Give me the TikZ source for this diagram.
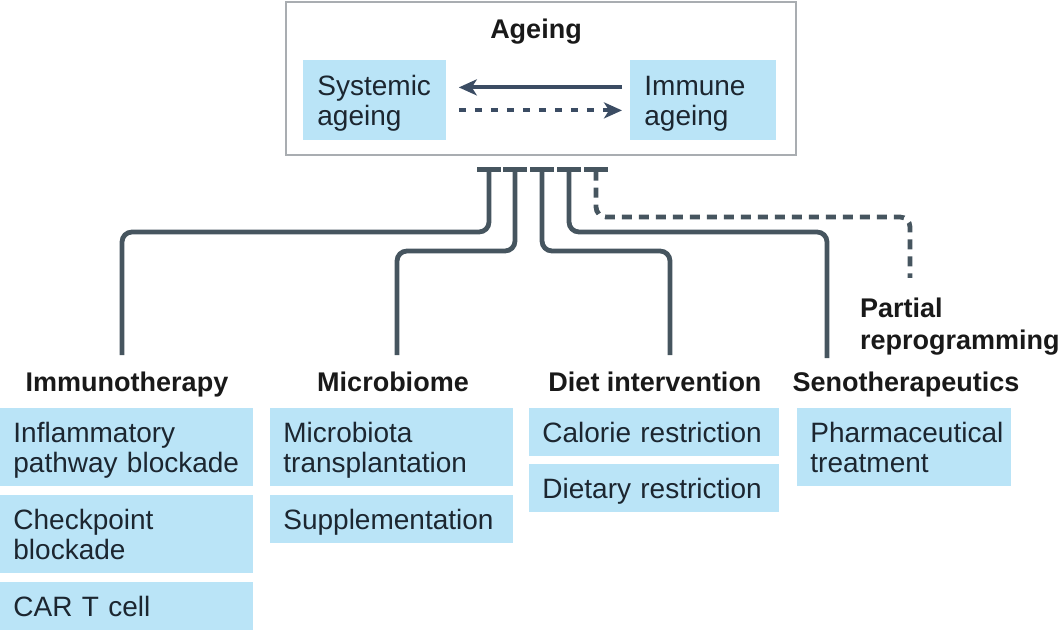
\documentclass[tikz,border=0pt]{standalone}
\usepackage{fontspec}
\setmainfont{Liberation Sans}
\definecolor{myblue}{HTML}{BAE4F7}
\definecolor{mygrey}{HTML}{A9ADB1}
\definecolor{myslate}{HTML}{46555F}
\definecolor{myarrow}{HTML}{3B4C63}
\definecolor{mytext}{HTML}{1C2630}
\usetikzlibrary{arrows.meta,calc}

\begin{document}
\begin{tikzpicture}[x=0.5pt,y=-0.5pt,
        font=\fontsize{14}{15}\selectfont,
        item/.style={fill=myblue,anchor=north west,inner xsep=6.5pt,inner ysep=0pt,
            align=left,text=mytext,text height=10pt,text depth=0pt},
        twolines/.style={text depth=15pt},
        header/.style={anchor=base,inner sep=0pt,outer xsep=0pt,outer ysep=8.5pt,
            font=\fontsize{13.5}{16.5}\selectfont\bfseries,text=black!90,text height=10pt},
        link/.style={myslate,line width=2.4pt,rounded corners=5pt,arrows={Bar[width=12pt]-}},
        flow/.style={myarrow,line width=2.1pt,-{Stealth[length=9pt,width=8pt,inset=2.5pt]}}]
        \useasboundingbox (0,0) rectangle (1062,631);

        % Ageing
        \node[draw=mygrey,line width=1pt,anchor=north west,inner sep=0pt,
            minimum width=255pt,minimum height=76.5pt] (frame) at (285,1) {};
        \node[header] (ageing) at (536,39) {Ageing};
        \node[item,twolines,inner xsep=7pt,text width=57.5pt,minimum height=40pt] (systemic) at (303,60) {Systemic\\ageing};
        \node[item,twolines,inner xsep=7pt,text width=59pt,minimum height=40pt] (immune) at (630,60) {Immune\\ageing};
        \draw[flow] ($(immune.west)+(-8,-13)$) -- ($(systemic.east)+(12,-13)$);
        \draw[flow,dash pattern=on 3.5pt off 4.5pt] ($(systemic.east)+(12,10)$) -- ($(immune.west)+(-8,10)$);

        % Interventions
        \node[header] (immuno) at (127,392) {Immunotherapy};
        \node[header] (microbe) at (393,392) {Microbiome};
        \node[header] (diet) at (655,392) {Diet intervention};
        \node[header] (seno) at (906,392) {Senotherapeutics};
        \node[header,anchor=base west,align=left,text height=26.5pt] (partial) at (860,350) {Partial\\reprogramming};

        \node[item,twolines,text width=113.5pt,minimum height=39pt] (inflam) at (0,408) {Inflammatory\\pathway blockade};
        \node[item,twolines,text width=113.5pt,minimum height=39pt] (checkpoint) at (0,495) {Checkpoint\\blockade};
        \node[item,text width=113.5pt,minimum height=24pt] (cart) at (0,582) {CAR T cell};

        \node[item,twolines,text width=108.5pt,minimum height=39pt] (microbiota) at (270,408) {Microbiota\\transplantation};
        \node[item,text width=108.5pt,minimum height=24pt] (supplement) at (270,495) {Supplementation};

        \node[item,text width=112pt,minimum height=24pt] (calorie) at (529,408) {Calorie restriction};
        \node[item,text width=112pt,minimum height=24pt] (dietary) at (529,464) {Dietary restriction};

        \node[item,twolines,text width=94pt,minimum height=39pt] (pharma) at (797,408) {Pharmaceutical\\treatment};

        % Links
        \coordinate (t1) at (489,167);
        \coordinate (t2) at (515,167);
        \coordinate (t3) at (542,167);
        \coordinate (t4) at (569,167);
        \coordinate (t5) at (596,167);
        \draw[link] (t1) -- ++(0,65) -| ([xshift=-2.5pt]immuno.north);
        \draw[link] (t2) -- ++(0,84) -| ([xshift=2pt]microbe.north);
        \draw[link] (t3) -- ++(0,84) -| ([xshift=7.5pt]diet.north);
        \draw[link] (t4) -- ++(0,65) -| ([xshift=-39.5pt,yshift=-1.5pt]seno.north);
        \draw[link,dash pattern=on 5pt off 3.5pt] (t5) -- ++(0,50) -| ([xshift=25pt,yshift=1pt]partial.north west);
\end{tikzpicture}
\end{document}
